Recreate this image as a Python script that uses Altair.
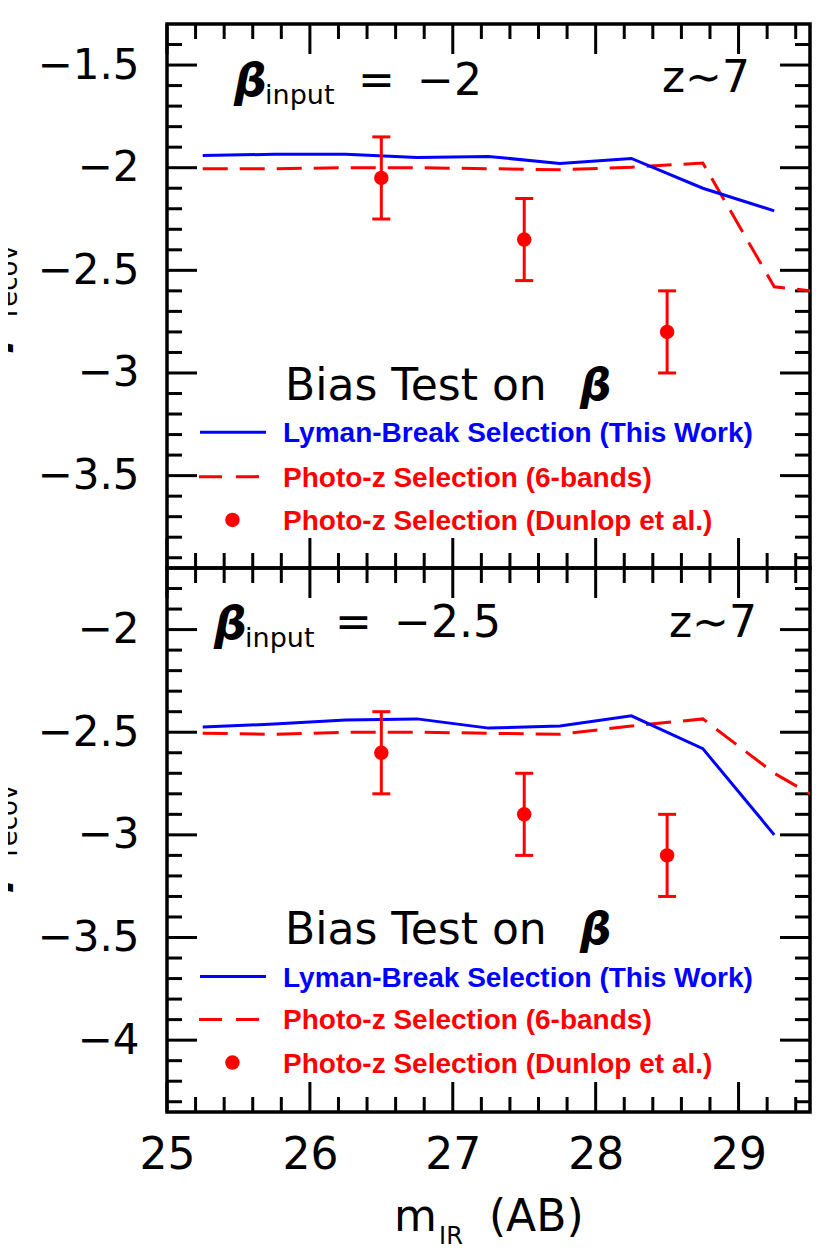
import altair as alt
import pandas as pd

# ---------------- data ----------------
mag = [25.25, 25.75, 26.25, 26.75, 27.25, 27.75, 28.25, 28.75, 29.25]
mag_photz = [25.25, 25.75, 26.25, 26.75, 27.25, 27.75, 28.25, 28.75, 29.25, 29.75]

lbg_top = [-1.94, -1.935, -1.935, -1.95, -1.945, -1.98, -1.955, -2.10, -2.21]
photz_top = [-2.005, -2.005, -2.0, -2.0, -2.005, -2.01, -1.998, -1.977, -2.58, -2.62]
lbg_bot = [-2.475, -2.46, -2.44, -2.435, -2.48, -2.47, -2.42, -2.58, -3.0]
photz_bot = [-2.505, -2.51, -2.5, -2.5, -2.505, -2.51, -2.47, -2.435, -2.70, -2.90]

dunlop_mag = [26.5, 27.5, 28.5]
dunlop_top = [-2.05, -2.35, -2.80]
dunlop_bot = [-2.60, -2.90, -3.10]
dunlop_err = [0.2, 0.2, 0.2]

x_tick_labels = [25, 26, 27, 28, 29]
y_tick_labels_top = [-1.5, -2.0, -2.5, -3.0, -3.5]
y_tick_labels_bot = [-2.0, -2.5, -3.0, -3.5, -4.0]

legend_labels = ["Lyman-Break Selection (This Work)",
                 "Photo-z Selection (6-bands)",
                 "Photo-z Selection (Dunlop et al.)"]

# ---------------- styling ----------------
W, H = 643, 544
XDOM = [25, 29.5]
FONT = "DejaVu Sans"
BLUE = "#0000ff"
RED = "#ff0000"
MINUS = "\u2212"

top_ann = dict(ydom=[-3.95, -1.3], beta=(25.469, -1.651), sub=(25.686, -1.690),
               eq=(26.337, -1.646), val=(26.750, -1.646, MINUS + "2"), z=(29.080, -1.631),
               bias=(25.826, -3.132), bias_beta=(27.890, -3.132),
               rows=(-3.289, -3.505, -3.716), txt_rows=(-3.338, -3.554, -3.765),
               recov=(23.95, -2.727), ybeta=(23.859, -2.898))
bot_ann = dict(ydom=[-4.35, -1.7], beta=(25.329, -2.048), sub=(25.546, -2.087),
               eq=(26.176, -2.034), val=(26.589, -2.034, MINUS + "2.5"), z=(29.129, -2.034),
               bias=(25.826, -3.534), bias_beta=(27.890, -3.534),
               rows=(-3.690, -3.899, -4.109), txt_rows=(-3.739, -3.948, -4.158),
               recov=(23.95, -3.105), ybeta=(23.859, -3.276))


def panel(ymajor, lbg, photz, dun, ann, bottom):
    xs = alt.Scale(domain=XDOM, nice=False, zero=False)
    ys = alt.Scale(domain=ann["ydom"], nice=False, zero=False)

    if bottom:
        xaxis = alt.Axis(values=x_tick_labels, ticks=False, domain=False, grid=False,
                         labelFont=FONT, labelFontSize=44, labelPadding=21,
                         labelFlush=False, labelColor="black", title=None,
                         labelExpr="toString(datum.value)", labelOverlap=False)
    else:
        xaxis = None
    yaxis = alt.Axis(values=ymajor, ticks=False, domain=False, grid=False,
                     labelFont=FONT, labelFontSize=42, labelPadding=28,
                     labelColor="black", title=None, labelFlush=False, labelOverlap=False,
                     labelExpr="replace(toString(datum.value), '-', '\u2212')")

    def X(f="x"):
        return alt.X(f"{f}:Q", scale=xs, axis=xaxis, title=None)

    def Y(f="y"):
        return alt.Y(f"{f}:Q", scale=ys, axis=yaxis, title=None)

    lo, hi = ann["ydom"]
    x_minor = [round(25 + 0.2 * i, 1) for i in range(1, 23) if i % 5]
    y_minor = [round(v / 10, 1) for v in range(int(round(hi * 10)) - 1, int(round(lo * 10)), -1) if v % 5]

    dxmaj = pd.DataFrame({"x": x_tick_labels})
    dxmin = pd.DataFrame({"x": x_minor})
    dymaj = pd.DataFrame({"y": ymajor})
    dymin = pd.DataFrame({"y": y_minor})

    tk = dict(color="black", strokeWidth=3)
    layers = []
    # x ticks (inward, top & bottom)
    layers.append(alt.Chart(dxmaj).mark_rule(**tk).encode(x=X(), y=alt.value(H), y2=alt.value(H - 30)))
    layers.append(alt.Chart(dxmaj).mark_rule(**tk).encode(x=X(), y=alt.value(0), y2=alt.value(30)))
    layers.append(alt.Chart(dxmin).mark_rule(**tk).encode(x=X(), y=alt.value(H), y2=alt.value(H - 15)))
    layers.append(alt.Chart(dxmin).mark_rule(**tk).encode(x=X(), y=alt.value(0), y2=alt.value(15)))
    # y ticks (inward, left & right)
    layers.append(alt.Chart(dymaj).mark_rule(**tk).encode(y=Y(), x=alt.value(0), x2=alt.value(30)))
    layers.append(alt.Chart(dymaj).mark_rule(**tk).encode(y=Y(), x=alt.value(W), x2=alt.value(W - 30)))
    layers.append(alt.Chart(dymin).mark_rule(**tk).encode(y=Y(), x=alt.value(0), x2=alt.value(15)))
    layers.append(alt.Chart(dymin).mark_rule(**tk).encode(y=Y(), x=alt.value(W), x2=alt.value(W - 15)))

    # data series
    dl = pd.DataFrame({"x": mag, "y": lbg})
    dp = pd.DataFrame({"x": mag_photz, "y": photz})
    dd = pd.DataFrame({"x": dunlop_mag, "y": dun,
                       "lo": [v - e for v, e in zip(dun, dunlop_err)],
                       "hi": [v + e for v, e in zip(dun, dunlop_err)]})
    layers.append(alt.Chart(dp).mark_line(color=RED, strokeWidth=3, strokeDash=[25, 12], clip=True)
                  .encode(x=X(), y=Y()))
    layers.append(alt.Chart(dl).mark_line(color=BLUE, strokeWidth=3, clip=True).encode(x=X(), y=Y()))
    layers.append(alt.Chart(dd).mark_rule(color=RED, strokeWidth=3).encode(x=X(), y=Y("lo"), y2="hi:Q"))
    layers.append(alt.Chart(dd).mark_tick(orient="horizontal", size=18, thickness=3, color=RED, opacity=1)
                  .encode(x=X(), y=Y("lo")))
    layers.append(alt.Chart(dd).mark_tick(orient="horizontal", size=18, thickness=3, color=RED, opacity=1)
                  .encode(x=X(), y=Y("hi")))
    layers.append(alt.Chart(dd).mark_circle(size=210, color=RED, opacity=1).encode(x=X(), y=Y()))

    # annotations
    def txt(df, **kw):
        return alt.Chart(df).mark_text(baseline="alphabetic", color="black", **kw).encode(
            x=X(), y=Y(), text="t:N")

    def one(pos, s):
        return pd.DataFrame({"x": [pos[0]], "y": [pos[1]], "t": [s]})

    layers.append(txt(one(ann["beta"], "\u03b2"), align="left", font=FONT, fontSize=46,
                      fontWeight="bold", fontStyle="italic"))
    layers.append(txt(one(ann["sub"], "input"), align="left", font=FONT, fontSize=27))
    layers.append(txt(one(ann["eq"], "="), align="left", font=FONT, fontSize=44))
    layers.append(txt(one(ann["val"][:2], ann["val"][2]), align="left", font=FONT, fontSize=44))
    layers.append(txt(one(ann["z"], "z\u223c7"), align="right", font=FONT, fontSize=44))
    layers.append(txt(one(ann["bias"], "Bias Test on"), align="left", font=FONT, fontSize=44))
    layers.append(txt(one(ann["bias_beta"], "\u03b2"), align="left", font=FONT, fontSize=44,
                      fontWeight="bold", fontStyle="italic"))
    # cut-off y title
    layers.append(txt(one(ann["recov"], "recov"), align="left", font=FONT, fontSize=26, angle=270))
    layers.append(txt(one(ann["ybeta"], "\u03b2"), align="left", font=FONT, fontSize=44,
                      fontWeight="bold", fontStyle="italic", angle=270))

    # legend
    r1, r2, r3 = ann["rows"]
    layers.append(alt.Chart(pd.DataFrame({"x": [25.231], "x2": [25.693], "y": [r1]}))
                  .mark_rule(color=BLUE, strokeWidth=3).encode(x=X(), x2="x2:Q", y=Y()))
    layers.append(alt.Chart(pd.DataFrame({"x": [25.224], "x2": [25.651], "y": [r2]}))
                  .mark_rule(color=RED, strokeWidth=3, strokeDash=[23, 14]).encode(x=X(), x2="x2:Q", y=Y()))
    layers.append(alt.Chart(pd.DataFrame({"x": [25.458], "y": [r3]}))
                  .mark_circle(size=210, color=RED, opacity=1).encode(x=X(), y=Y()))
    dleg = pd.DataFrame({"x": [25.812] * 3, "y": list(ann["txt_rows"]), "t": legend_labels,
                         "c": [BLUE, RED, RED]})
    layers.append(alt.Chart(dleg).mark_text(align="left", baseline="alphabetic", font="Liberation Sans",
                                             fontWeight="bold", fontSize=28)
                  .encode(x=X(), y=Y(), text="t:N", color=alt.Color("c:N", scale=None)))

    if bottom:
        layers.append(txt(one((26.589, -4.932), "m"), align="left", font=FONT, fontSize=44))
        layers.append(txt(one((26.904, -4.991), "IR"), align="left", font=FONT, fontSize=24))
        layers.append(txt(one((27.253, -4.932), "(AB)"), align="left", font=FONT, fontSize=44))

    return alt.layer(*layers).properties(width=W, height=H)


top = panel(y_tick_labels_top, lbg_top, photz_top, dunlop_top, top_ann, False)
bot = panel(y_tick_labels_bot, lbg_bot, photz_bot, dunlop_bot, bot_ann, True)

chart = (alt.vconcat(top, bot, spacing=0, bounds="flush")
         .resolve_scale(x="independent", y="independent")
         .configure_view(stroke="black", strokeWidth=3.5)
         .properties(padding={"left": -41, "top": 12, "right": 5, "bottom": 5},
                     background="white"))

chart.save("out.html", embed_options={"renderer": "svg", "actions": False})
